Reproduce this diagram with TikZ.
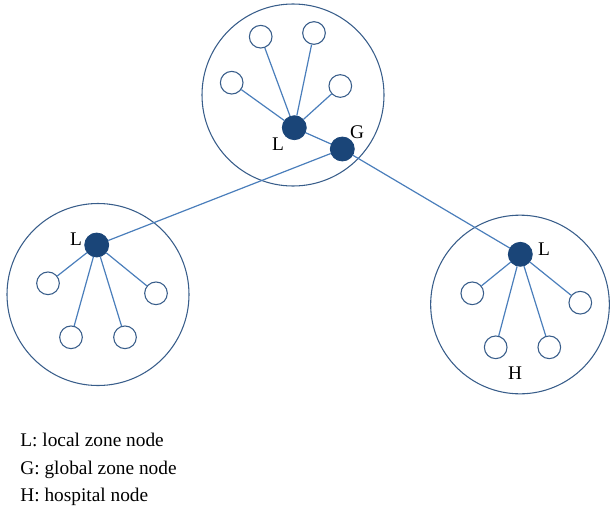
\documentclass[tikz,border=0pt]{standalone}
\usepackage{fontspec}
\setmainfont{Liberation Serif}
\usepackage{xcolor}
\definecolor{hubblue}{HTML}{1A4578}
\definecolor{edgeblue}{HTML}{4A7EBB}
\definecolor{ringblue}{HTML}{385D8A}

\begin{document}
\begin{tikzpicture}[
    x=0.75pt, y=-0.75pt,
    zone/.style={circle, draw=ringblue, line width=0.8pt, inner sep=0pt},
    hub/.style={circle, fill=hubblue, draw=hubblue, inner sep=0pt, minimum size=18pt},
    leaf/.style={circle, draw=ringblue, fill=white, line width=0.8pt, inner sep=0pt, minimum size=17pt},
    link/.style={draw=edgeblue, line width=0.9pt},
    tag/.style={inner sep=0pt, font=\fontsize{14.5}{17}\selectfont},
    semithick % line style
]
\useasboundingbox (0,0) rectangle (610,507);

% Zones
\node[zone, minimum size=136.5pt] (ztop) at (293,95) {};
\node[zone, minimum size=136.5pt] (zleft) at (98,294.5) {};
\node[zone, minimum size=134pt] (zright) at (520,304.5) {};

% Leaves
\node[leaf] (t1) at (260.7,36.7) {};
\node[leaf] (t2) at (314,33) {};
\node[leaf] (t3) at (231.7,82.7) {};
\node[leaf] (t4) at (340.3,86) {};
\node[leaf] (a1) at (48,283.3) {};
\node[leaf] (a2) at (156,293.3) {};
\node[leaf] (a3) at (71,337.3) {};
\node[leaf] (a4) at (125,337.3) {};
\node[leaf] (b1) at (472.3,293.3) {};
\node[leaf] (b2) at (580.3,302.7) {};
\node[leaf] (b3) at (495.7,347.3) {};
\node[leaf] (b4) at (549.3,347.3) {};

% Hubs
\node[hub] (ltop) at (294.3,127.7) {};
\node[hub] (gnode) at (342.3,149) {};
\node[hub] (lleft) at (96.7,245) {};
\node[hub] (lright) at (520.3,254.3) {};

% Edges
\foreach \n in {t1,t2,t3,t4} \draw[link] (ltop) -- (\n);
\foreach \n in {a1,a2,a3,a4} \draw[link] (lleft) -- (\n);
\foreach \n in {b1,b2,b3,b4} \draw[link] (lright) -- (\n);
\draw[link] (ltop) -- (gnode);
\draw[link] (gnode) -- (lleft);
\draw[link] (gnode) -- (lright);

% Labels
\node[tag] (labLtop) at (278,144.5) {L};
\node[tag] (labG) at (357,132) {G};
\node[tag] (labLleft) at (76,239) {L};
\node[tag] (labLright) at (544,249) {L};
\node[tag] (labH) at (515,373) {H};

% Legend
\node[tag, anchor=base west] (legL) at (20,446) {L: local zone node};
\node[tag, anchor=base west] (legG) at (20,474) {G: global zone node};
\node[tag, anchor=base west] (legH) at (20,501) {H: hospital node};

\end{tikzpicture}
\end{document}
